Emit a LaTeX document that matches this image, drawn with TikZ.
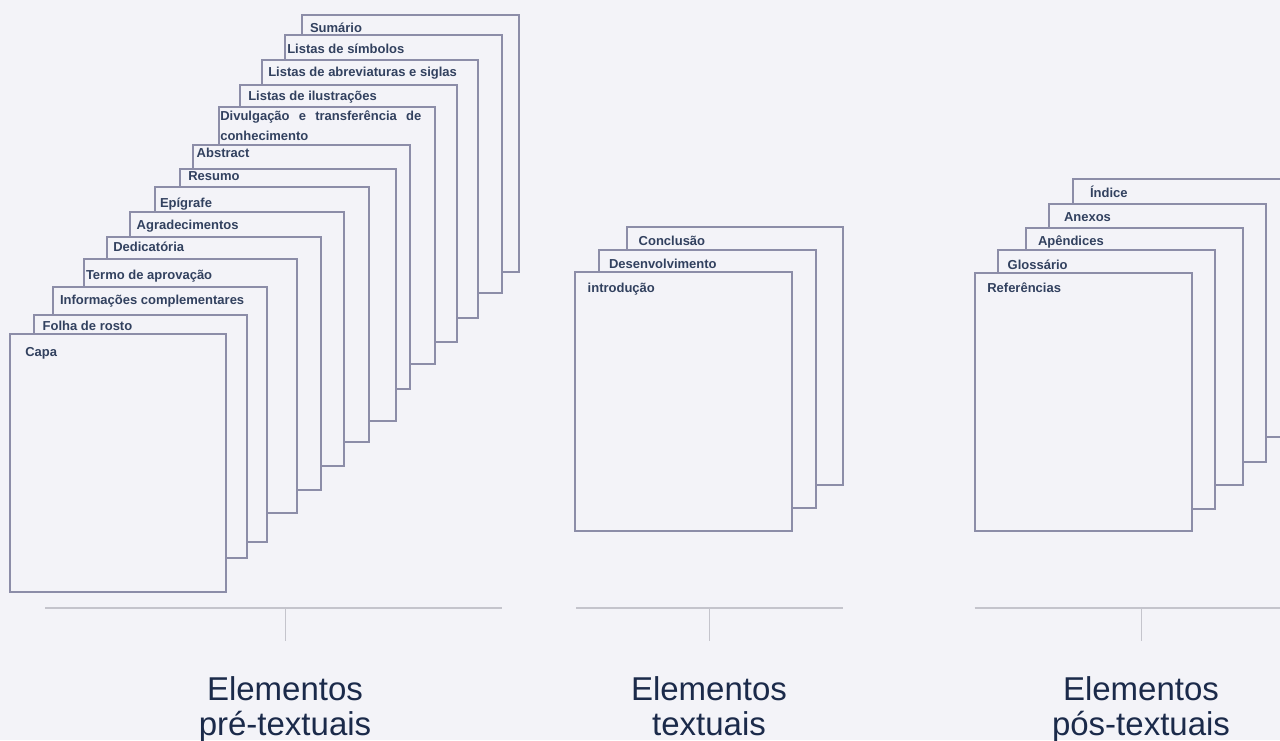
\documentclass[tikz,border=0pt]{standalone}
\usepackage{fontspec}
\setmainfont{Liberation Sans}
\usetikzlibrary{fit}
\definecolor{bg}{HTML}{F3F3F8}
\definecolor{pagestroke}{HTML}{8C8DA8}
\definecolor{lbltxt}{HTML}{32415F}
\definecolor{captxt}{HTML}{1B2A4A}
\definecolor{rulecol}{HTML}{C4C4CC}
\tikzset{
  page/.style={draw=pagestroke, line width=2pt, fill=bg, inner sep=0pt, outer sep=0pt, rectangle},
  lbl/.style={anchor=base west, inner sep=0pt, outer sep=0pt, text=lbltxt, font=\fontsize{13}{20}\selectfont\bfseries},
  grouplbl/.style={anchor=north, inner sep=0pt, align=center, text=captxt, font=\fontsize{33}{35}\selectfont},
  hrule/.style={draw=rulecol, line width=2pt},
  vtick/.style={draw=rulecol, line width=1pt}
}
\newcommand{\pg}[5]{\node[page, fit={(#2,#3) (#4,#5)}] (#1) {};}
\begin{document}
\begin{tikzpicture}[x=1pt,y=-1pt]
\fill[bg] (0,0) rectangle (1280,740);
\useasboundingbox (0,0) rectangle (1280,740);
\clip (0,0) rectangle (1280,740);

% ---- pre-textual stack (back to front)
\pg{sum}{302}{15}{519}{272}
\node[lbl] (tsum) at (310,32) {Sumário};
\pg{sim}{285}{35}{502}{293}
\node[lbl] (tsim) at (287.3,53) {Listas de símbolos};
\pg{abr}{262}{60}{478}{318}
\node[lbl] (tabr) at (268.3,76) {Listas de abreviaturas e siglas};
\pg{ilu}{240}{85}{457}{342}
\node[lbl] (tilu) at (248.3,100) {Listas de ilustrações};
\pg{div}{219}{107}{435}{364}
\node[lbl] (tdiva) at (220.3,120.3) {\makebox[201pt][s]{Divulgação e transferência de}};
\node[lbl] (tdivb) at (220.3,140.6) {conhecimento};
\pg{abs}{193}{145}{410}{389}
\node[lbl] (tabs) at (196.7,157) {Abstract};
\pg{res}{180}{169}{396}{421}
\node[lbl] (tres) at (188.3,180.6) {Resumo};
\pg{epi}{155}{187}{369}{442}
\node[lbl] (tepi) at (160,207.3) {Epígrafe};
\pg{agr}{130}{212}{344}{466}
\node[lbl] (tagr) at (136.7,229.6) {Agradecimentos};
\pg{ded}{107}{237}{321}{490}
\node[lbl] (tded) at (113.3,251.3) {Dedicatória};
\pg{ter}{84}{259}{297}{513}
\node[lbl] (tter) at (86,279.3) {Termo de aprovação};
\pg{inf}{53}{287}{267}{542}
\node[lbl] (tinf) at (60,304) {Informações complementares};
\pg{fol}{34}{315}{247}{558}
\node[lbl] (tfol) at (42.7,330) {Folha de rosto};
\pg{cap}{10}{334}{226}{592}
\node[lbl] (tcap) at (25.3,356.3) {Capa};

% ---- textual stack
\pg{con}{627}{227}{843}{485}
\node[lbl] (tcon) at (638.7,245.3) {Conclusão};
\pg{des}{599}{250}{816}{508}
\node[lbl] (tdes) at (609,268.6) {Desenvolvimento};
\pg{int}{575}{272}{792}{531}
\node[lbl] (tint) at (587.7,292.3) {introdução};

% ---- post-textual stack
\pg{ind}{1073}{179}{1290}{437}
\node[lbl] (tind) at (1090,197) {Índice};
\pg{anx}{1049}{204}{1266}{462}
\node[lbl] (tanx) at (1064,221.3) {Anexos};
\pg{apd}{1026}{228}{1243}{485}
\node[lbl] (tapd) at (1038,245.3) {Apêndices};
\pg{glo}{998}{250}{1215}{509}
\node[lbl] (tglo) at (1007.7,269) {Glossário};
\pg{ref}{975}{273}{1192}{531}
\node[lbl] (tref) at (987.3,292.3) {Referências};

% ---- brackets
\coordinate (preL) at (45,608);
\coordinate (preR) at (502,608);
\coordinate (preM) at (285,608);
\coordinate (preT) at (285,640.5);
\coordinate (txtL) at (576,608);
\coordinate (txtR) at (843,608);
\coordinate (txtM) at (709,608);
\coordinate (txtT) at (709,640.5);
\coordinate (posL) at (974.5,608);
\coordinate (posR) at (1282,608);
\coordinate (posM) at (1141,608);
\coordinate (posT) at (1141,640.5);
\draw[hrule] (preL) -- (preR);
\draw[hrule] (txtL) -- (txtR);
\draw[hrule] (posL) -- (posR);
\draw[vtick] (preM) -- (preT);
\draw[vtick] (txtM) -- (txtT);
\draw[vtick] (posM) -- (posT);

\node[grouplbl] (gpre) at (285,676) {Elementos\\pré-textuais};
\node[grouplbl] (gtxt) at (709,676) {Elementos\\textuais};
\node[grouplbl] (gpos) at (1141,676) {Elementos\\pós-textuais};
\end{tikzpicture}
\end{document}
